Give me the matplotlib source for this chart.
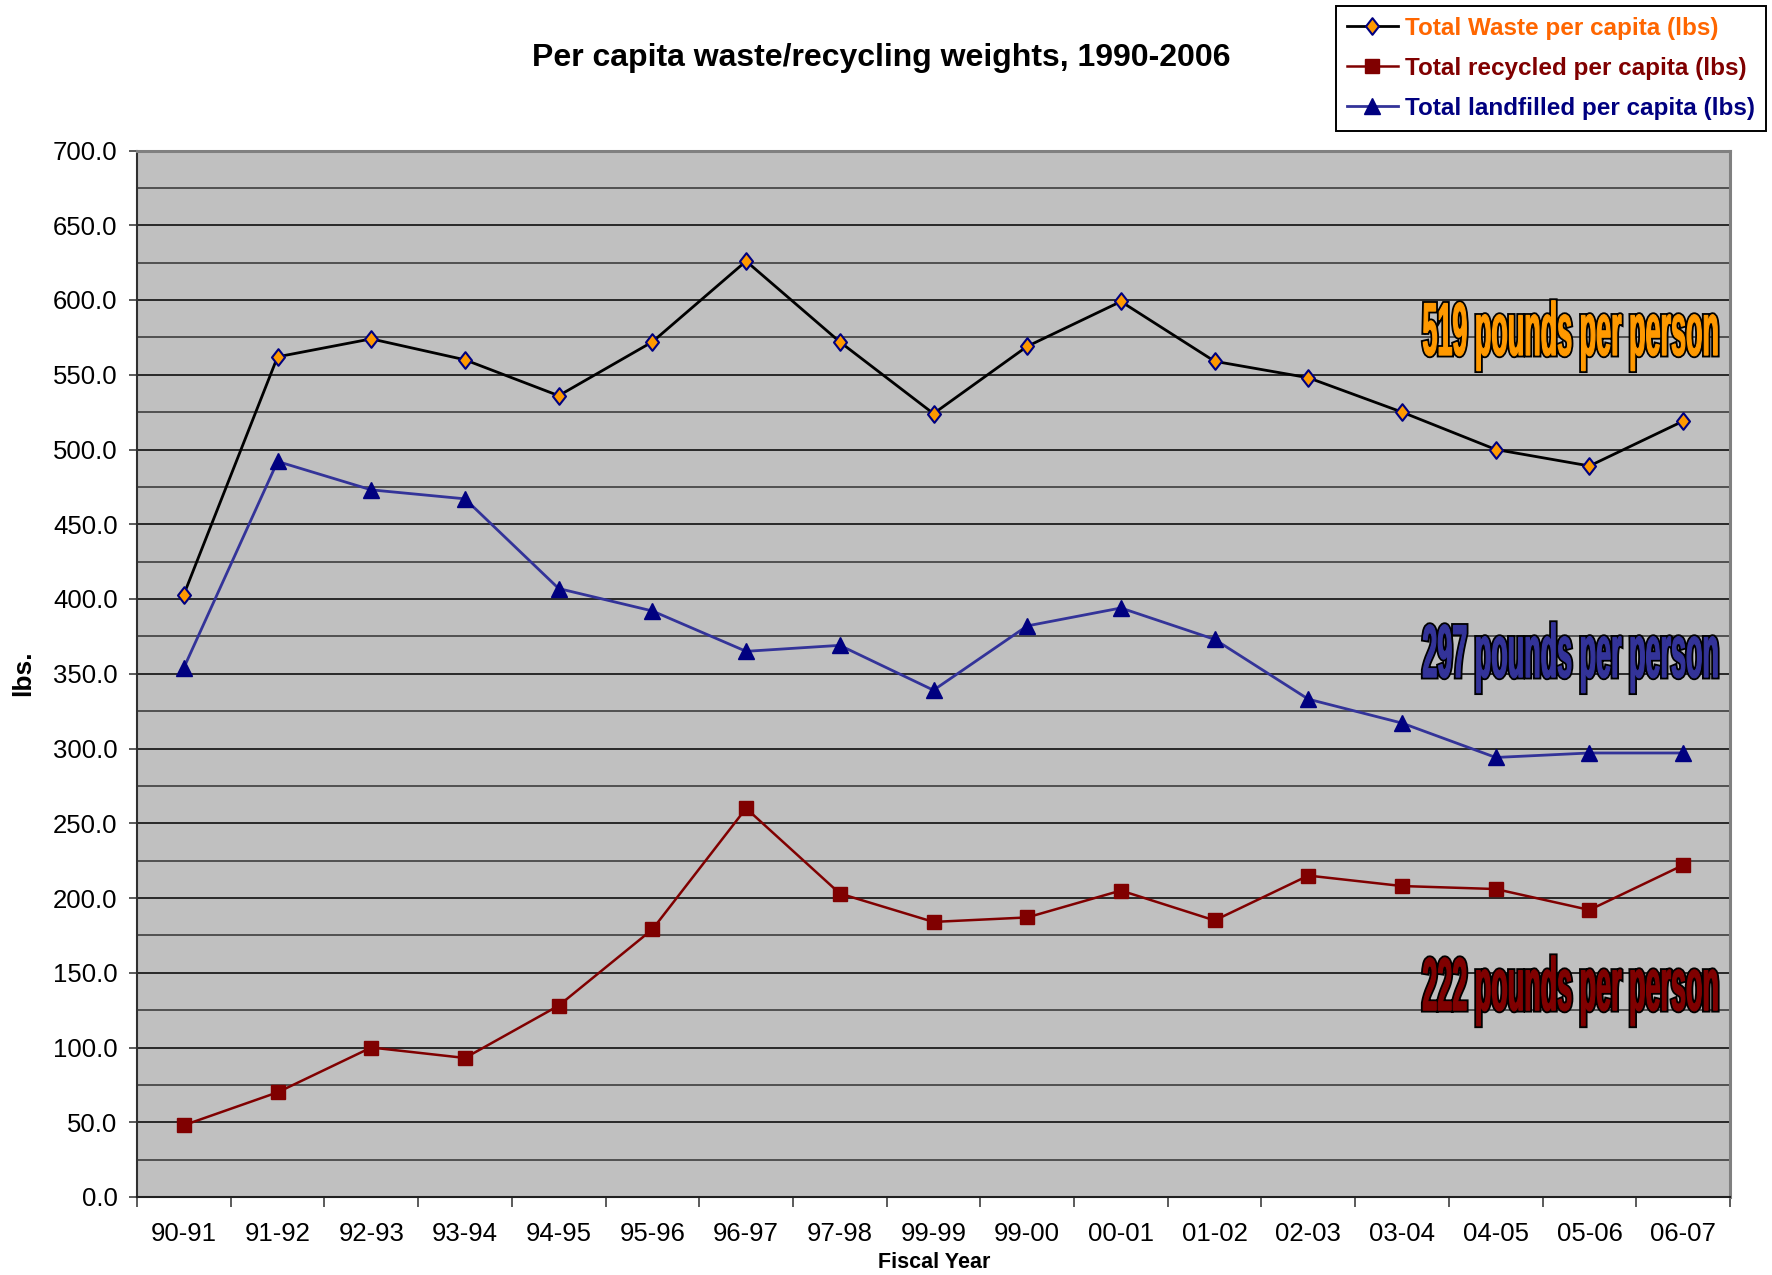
import matplotlib
matplotlib.use("Agg")
import matplotlib.pyplot as plt
import matplotlib.transforms as mtransforms
from matplotlib.path import Path
from matplotlib.patches import PathPatch
from matplotlib.textpath import TextPath
from matplotlib.font_manager import FontProperties
from matplotlib.ticker import MultipleLocator, FixedLocator, NullFormatter
import numpy as np

plt.rcParams['font.family'] = ['Liberation Sans', 'DejaVu Sans']

# data
years = ["90-91", "91-92", "92-93", "93-94", "94-95", "95-96", "96-97", "97-98",
         "99-99", "99-00", "00-01", "01-02", "02-03", "03-04", "04-05", "05-06", "06-07"]
waste = [403, 562, 574, 560, 536, 572, 626, 572, 524, 569, 599, 559, 548, 525, 500, 489, 519]
recycled = [48, 70, 100, 93, 128, 179, 260, 203, 184, 187, 205, 185, 215, 208, 206, 192, 222]
landfilled = [354, 492, 473, 467, 407, 392, 365, 369, 339, 382, 394, 373, 333, 317, 294, 297, 297]
labels = ["Total Waste per capita (lbs)", "Total recycled per capita (lbs)",
          "Total landfilled per capita (lbs)"]
big_notes = ["519 pounds per person", "297 pounds per person", "222 pounds per person"]

W, H = 1772, 1275
fig = plt.figure(figsize=(W / 100, H / 100), dpi=100)
ax = fig.add_axes([137 / W, 1 - 1197 / H, (1730 - 137) / W, (1197 - 150.5) / H])
ax.set_facecolor('#C0C0C0')

x = np.arange(len(years))

# slightly tall diamond like excel's
diamond = Path([(0, 1), (0.78, 0), (0, -1), (-0.78, 0), (0, 1)],
               [Path.MOVETO, Path.LINETO, Path.LINETO, Path.LINETO, Path.CLOSEPOLY])

l1, = ax.plot(x, waste, color='black', lw=2.0, marker=diamond, ms=12,
              mfc='#FF9900', mec='#000080', mew=1.5, zorder=4)
l2, = ax.plot(x, recycled, color='#800000', lw=1.8, marker='s', ms=10,
              mfc='#800000', mec='#800000', zorder=4)
l3, = ax.plot(x, landfilled, color='#333399', lw=2.0, marker='^', ms=11,
              mfc='#000080', mec='#000080', zorder=4)

ax.set_xlim(-0.5, len(years) - 0.5)
ax.set_ylim(0, 700)

# y axis
ax.yaxis.set_major_locator(MultipleLocator(50))
ax.yaxis.set_minor_locator(MultipleLocator(25))
ax.yaxis.set_major_formatter(matplotlib.ticker.FormatStrFormatter('%.1f'))
ax.tick_params(axis='y', which='major', length=6, width=1.2, color='#404040',
               labelsize=18.5, pad=8)
ax.tick_params(axis='y', which='minor', length=0)
ax.yaxis.grid(True, which='major', color='black', lw=1.1)
ax.yaxis.grid(True, which='minor', color='#333333', lw=1.1)
ax.set_axisbelow(True)

# x axis: labels centered, tick marks between categories
ax.set_xticks(x)
ax.set_xticklabels(years)
ax.xaxis.set_minor_locator(FixedLocator(np.arange(-0.5, len(years), 1.0)))
ax.xaxis.set_minor_formatter(NullFormatter())
ax.tick_params(axis='x', which='major', length=0, labelsize=18.5, pad=18)
ax.tick_params(axis='x', which='minor', length=7, width=1.2, color='#404040')

for s in ['top', 'right']:
    ax.spines[s].set_color('#808080')
    ax.spines[s].set_linewidth(2.2)
ax.spines['left'].set_color('#303030')
ax.spines['left'].set_linewidth(1.5)
ax.spines['bottom'].set_color('#202020')
ax.spines['bottom'].set_linewidth(1.5)

fig.text(881 / W, 1 - 58 / H, "Per capita waste/recycling weights, 1990-2006",
         ha='center', va='center', fontsize=23, fontweight='bold')
fig.text(23 / W, 1 - 673 / H, "lbs.", rotation=90, ha='center', va='center',
         fontsize=19, fontweight='bold')
fig.text(934 / W, 1 - 1262 / H, "Fiscal Year", ha='center', va='center',
         fontsize=15.5, fontweight='bold')

# legend
leg = fig.legend([l1, l2, l3], labels, loc='upper right',
                 bbox_to_anchor=(1766 / W, 1 - 6 / H), borderaxespad=0, numpoints=1,
                 prop={'weight': 'bold', 'size': 17.5}, handlelength=2.1,
                 handletextpad=0.3, labelspacing=0.7, borderpad=0.45,
                 fancybox=False, framealpha=1, edgecolor='black')
leg.get_frame().set_linewidth(1.4)
for t, c in zip(leg.get_texts(), ['#FF6600', '#800000', '#000080']):
    t.set_color(c)

# big stretched "word art" notes at the right side
fp = FontProperties(family=['Liberation Sans Narrow', 'Liberation Sans'], weight='bold')
note_colors = ['#FF9900', '#333399', '#800000']
note_base = [0.8045, 0.4968, 0.1785]   # baseline in axes fraction
for txt, col, yb in zip(big_notes, note_colors, note_base):
    tp = TextPath((0, 0), txt, size=100, prop=fp)
    ext = tp.get_extents()
    sx = 294 / ext.width
    sy = 70 / ext.height
    tr = (mtransforms.Affine2D().translate(-ext.x1, 0).scale(sx, sy)
          + mtransforms.ScaledTranslation(0.992, yb, ax.transAxes))
    # black outline first, then the fill stroked in its own colour to fatten the glyphs a bit
    fig.add_artist(PathPatch(tp, facecolor='black', edgecolor='black', lw=3.4,
                             transform=tr, zorder=5))
    fig.add_artist(PathPatch(tp, facecolor=col, edgecolor=col, lw=0.8,
                             transform=tr, zorder=6))

fig.savefig("out.png", dpi=100)
